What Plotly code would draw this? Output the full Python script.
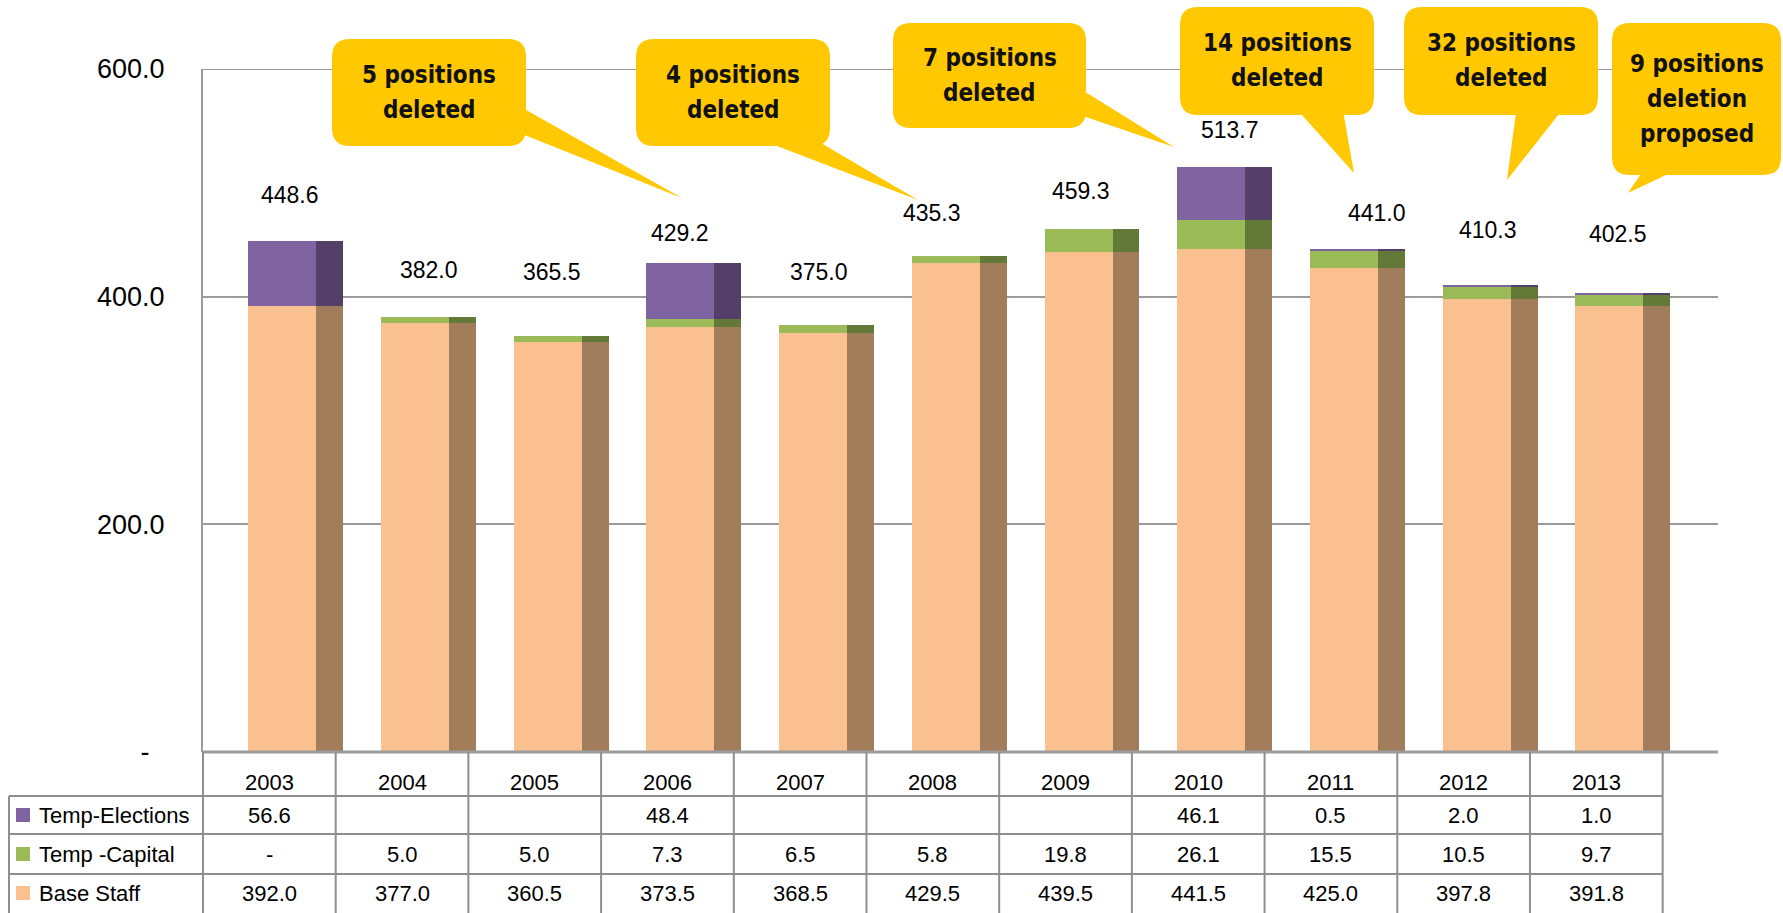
import plotly.graph_objects as go

# ---- data -------------------------------------------------------------
years = ["2003", "2004", "2005", "2006", "2007", "2008",
         "2009", "2010", "2011", "2012", "2013"]
temp_elections = [56.6, None, None, 48.4, None, None, None, 46.1, 0.5, 2.0, 1.0]
temp_capital = [0.0, 5.0, 5.0, 7.3, 6.5, 5.8, 19.8, 26.1, 15.5, 10.5, 9.7]
base_staff = [392.0, 377.0, 360.5, 373.5, 368.5, 429.5, 439.5, 441.5, 425.0, 397.8, 391.8]
y_ticks = [0, 200, 400, 600]
y_tick_text = ["-\u00a0\u00a0", "200.0", "400.0", "600.0"]
callout_texts = [
    ["5 positions", "deleted"],
    ["4 positions", "deleted"],
    ["7 positions", "deleted"],
    ["14 positions", "deleted"],
    ["32 positions", "deleted"],
    ["9 positions", "deletion", "proposed"],
]

# ---- page geometry (pixels) -------------------------------------------
W, H = 1783, 913
ML, MR, MT, MB = 203, 65, 69, 161
PW, PH = W - ML - MR, H - MT - MB
X_RANGE = [-0.5, 10.917]
Y_RANGE = [0, 600]
COL_W = PW / (X_RANGE[1] - X_RANGE[0])
TABLE_RIGHT = ML + len(years) * COL_W
TABLE_LEFT = 9

FONT = "Liberation Sans, Arial, sans-serif"
CALLOUT_FONT = "DejaVu Sans Condensed, Liberation Sans Narrow, sans-serif"
GRID = "#9C9C9C"
TABLE_LINE = "#8E8E8E"
YELLOW = "#FFC800"

# front face / shaded side of each series
series = [
    ("Base Staff", base_staff, "#FAC090", "#A17D5C"),
    ("Temp -Capital", temp_capital, "#9BBB59", "#637938"),
    ("Temp-Elections", temp_elections, "#8064A2", "#533F68"),
]
FRONT = (-0.158, 0.512)
SIDE = (0.354, 0.203)

# nudges (px) for the total labels above each column
label_dx = [21, 27, 17, 13, 19, -1, 15, 32, 46, 24, 22]
label_dy = [46, 47, 64, 30, 53, 43, 38, 37, 37, 55, 60]


def px(x):
    return (x - ML) / PW


def py(y):
    return (H - MB - y) / PH


fig = go.Figure()
n = len(years)
idx = list(range(n))
bottom = [0.0] * n
for name, vals, front_c, side_c in series:
    v = [val or 0.0 for val in vals]
    for (off, wid), col in ((FRONT, front_c), (SIDE, side_c)):
        fig.add_trace(go.Bar(
            x=idx, y=v, base=bottom, offset=off, width=wid, name=name,
            marker=dict(color=col, line=dict(width=0)),
            showlegend=False, hoverinfo="skip",
        ))
    bottom = [b + val for b, val in zip(bottom, v)]
totals = bottom

annotations = []
for i, tot in enumerate(totals):
    annotations.append(dict(
        x=i, y=tot, xref="x", yref="y", text=f"{tot:.1f}", showarrow=False,
        xshift=label_dx[i], yshift=label_dy[i],
        font=dict(family=FONT, size=23, color="#000"),
    ))

shapes = []
# floor line and top gridline
shapes.append(dict(type="line", xref="paper", yref="paper", x0=0, x1=1, y0=0, y1=0,
                   line=dict(color=GRID, width=3)))
shapes.append(dict(type="line", xref="paper", yref="y", x0=0, x1=1,
                   y0=Y_RANGE[1], y1=Y_RANGE[1], layer="below",
                   line=dict(color=GRID, width=2)))

# ---- data table under the chart ---------------------------------------
for k in range(n + 1):
    x = px(ML + k * COL_W)
    shapes.append(dict(type="line", xref="paper", yref="paper", x0=x, x1=x,
                       y0=py(H - MB), y1=py(H), line=dict(color=TABLE_LINE, width=2)))
row_edges = [796, 834, 874]
for yy in row_edges:
    shapes.append(dict(type="line", xref="paper", yref="paper",
                       x0=px(TABLE_LEFT), x1=px(TABLE_RIGHT), y0=py(yy), y1=py(yy),
                       line=dict(color=TABLE_LINE, width=2)))
shapes.append(dict(type="line", xref="paper", yref="paper",
                   x0=px(TABLE_LEFT), x1=px(TABLE_LEFT), y0=py(796), y1=py(H),
                   line=dict(color=TABLE_LINE, width=2)))

for i, yr in enumerate(years):
    annotations.append(dict(
        x=px(ML + (i + 0.5) * COL_W), y=py(782), xref="paper", yref="paper",
        text=yr, showarrow=False, xanchor="center", yanchor="middle",
        font=dict(family=FONT, size=22, color="#000"),
    ))


def fmt(v):
    if v is None:
        return ""
    if v == 0:
        return "-"
    return f"{v:.1f}"


table_rows = [series[2], series[1], series[0]]
row_centers = [815, 854, 893]
for (name, vals, col, _), yc in zip(table_rows, row_centers):
    shapes.append(dict(type="rect", xref="paper", yref="paper",
                       x0=px(16), x1=px(30), y0=py(yc - 7), y1=py(yc + 7),
                       fillcolor=col, line=dict(width=0)))
    annotations.append(dict(
        x=px(37), y=py(yc), xref="paper", yref="paper", text=name,
        showarrow=False, xanchor="left", yanchor="middle",
        font=dict(family=FONT, size=22, color="#000"),
    ))
    for i, val in enumerate(vals):
        annotations.append(dict(
            x=px(ML + (i + 0.5) * COL_W), y=py(yc), xref="paper", yref="paper",
            text=fmt(val), showarrow=False, xanchor="center", yanchor="middle",
            font=dict(family=FONT, size=22, color="#000"),
        ))

# ---- speech-bubble callouts -------------------------------------------
callout_boxes = [
    (332, 39, 526, 146),
    (636, 39, 830, 146),
    (893, 23, 1086, 128),
    (1180, 7, 1374, 115),
    (1404, 7, 1598, 115),
    (1612, 23, 1781, 175),
]
callout_tails = [
    ((512, 102), (512, 130), (682, 198)),
    ((751, 136), (809, 136), (918, 200)),
    ((1074, 85), (1074, 113), (1174, 147)),
    ((1293, 105), (1342, 105), (1354, 173)),
    ((1517, 105), (1566, 105), (1507, 180)),
    ((1647, 165), (1687, 165), (1628, 193)),
]
R = 18
LINE_STEP = 35


def rounded_rect(x0, y0, x1, y1, r):
    pts = [
        f"M{px(x0 + r)},{py(y0)}",
        f"L{px(x1 - r)},{py(y0)}",
        f"Q{px(x1)},{py(y0)} {px(x1)},{py(y0 + r)}",
        f"L{px(x1)},{py(y1 - r)}",
        f"Q{px(x1)},{py(y1)} {px(x1 - r)},{py(y1)}",
        f"L{px(x0 + r)},{py(y1)}",
        f"Q{px(x0)},{py(y1)} {px(x0)},{py(y1 - r)}",
        f"L{px(x0)},{py(y0 + r)}",
        f"Q{px(x0)},{py(y0)} {px(x0 + r)},{py(y0)}",
        "Z",
    ]
    return " ".join(pts)


for (box, tail, lines) in zip(callout_boxes, callout_tails, callout_texts):
    x0, y0, x1, y1 = box
    (ax, ay), (bx, by), (tx, ty) = tail
    shapes.append(dict(type="path", xref="paper", yref="paper", layer="above",
                       path=f"M{px(ax)},{py(ay)} L{px(bx)},{py(by)} L{px(tx)},{py(ty)} Z",
                       fillcolor=YELLOW, line=dict(width=0)))
    shapes.append(dict(type="path", xref="paper", yref="paper", layer="above",
                       path=rounded_rect(x0, y0, x1, y1, R),
                       fillcolor=YELLOW, line=dict(width=0)))
    cy = (y0 + y1) / 2
    first = cy - LINE_STEP * (len(lines) - 1) / 2
    for j, line in enumerate(lines):
        annotations.append(dict(
            x=px((x0 + x1) / 2), y=py(first + j * LINE_STEP), xref="paper", yref="paper",
            text=line, showarrow=False, xanchor="center", yanchor="middle",
            font=dict(family=CALLOUT_FONT, size=24, color="#111", weight="bold"),
        ))

fig.update_layout(
    width=W, height=H,
    margin=dict(l=ML, r=MR, t=MT, b=MB, pad=0),
    paper_bgcolor="white", plot_bgcolor="white",
    barmode="overlay", bargap=0,
    showlegend=False,
    xaxis=dict(range=X_RANGE, showticklabels=False, showgrid=False,
               zeroline=False, showline=False, fixedrange=True),
    yaxis=dict(range=Y_RANGE, tickmode="array", tickvals=y_ticks, ticktext=y_tick_text,
               showgrid=True, gridcolor=GRID, gridwidth=2, zeroline=False,
               showline=True, linecolor=GRID, linewidth=2, ticks="",
               ticklabelstandoff=31, fixedrange=True,
               tickfont=dict(family=FONT, size=27, color="#000")),
    shapes=shapes,
    annotations=annotations,
)

fig.write_html("out.html")
